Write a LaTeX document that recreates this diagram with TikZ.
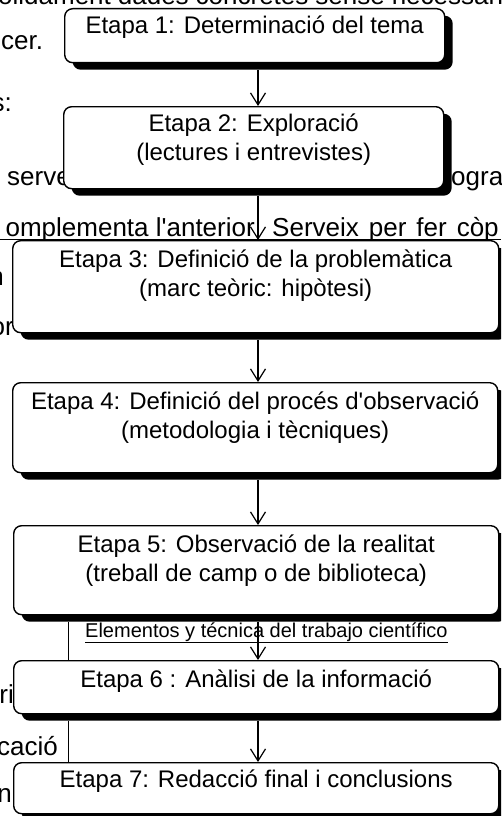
\documentclass[tikz,border=0pt]{standalone}
\usepackage{fontspec}
\setmainfont{Liberation Sans}
\usetikzlibrary{positioning,calc,shadows,arrows.meta}

\tikzset{
  stepbox/.style={draw, line width=1.4pt, rounded corners=8pt, fill=white, anchor=north west, inner sep=0pt,
    drop shadow={shadow xshift=8pt, shadow yshift=-7pt, fill=black, opacity=1}},
  steptext/.style={font=\fontsize{24}{29}\selectfont, align=center, anchor=base, inner sep=0pt},
  bgtext/.style={font=\fontsize{26}{30}\selectfont, inner sep=0pt},
  flow/.style={-{Straight Barb[length=12pt,width=15pt]}, line width=1.2pt}
}

\begin{document}
\begin{tikzpicture}[x=1pt, y=-1pt]
    \useasboundingbox (0,0) rectangle (501,816);
    \clip (0,0) rectangle (501,816);
    \coordinate (ax) at (258,0);
    \coordinate (lx) at (68,0);

    % page text behind the diagram
    \node [bgtext, anchor=base west] (bg1) at (-2,5) {\spaceskip=7pt olidament dades concretes sense necessari};
    \node [bgtext, anchor=base west] (bg2) at (1,50) {cer.};
    \node [bgtext, anchor=base east] (bg3) at (12,111) {s:};
    \node [bgtext, anchor=base west] (bg4) at (7,185) {serve};
    \node [bgtext, anchor=base west] (bg5) at (451,185) {ogra};
    \node [bgtext, anchor=base east] (bg6) at (255,236) {omplementa l\textquotesingle anterior};
    \node [bgtext, anchor=base west] (bg7) at (272,236) {\spaceskip=10pt Serveix per fer còp};
    \draw [line width=1pt] (0,239) -- (501,239);
    \node [bgtext, anchor=base east] (bg8) at (4,285) {n};
    \node [bgtext, anchor=base east] (bg9) at (14,335) {or};
    \node [bgtext, anchor=base east] (bg10) at (14,703) {ri};
    \node [bgtext, anchor=base east] (bg11) at (58,755) {cació};
    \node [bgtext, anchor=base east] (bg12) at (12,802) {n};

    % Etapes (base = last line)
    \node [stepbox, minimum width=380pt, minimum height=54pt] (e1) at (64,8) {};
    \node [steptext] (t1) at ($(e1.north)+(0,26)$) {Etapa 1: Determinació del tema};

    \node [stepbox, minimum width=380pt, minimum height=82pt] (e2) at (63,106) {};
    \node [steptext] (t2) at ($(e2.north)+(0,54)$) {Etapa 2: Exploració\\(lectures i entrevistes)};

    \node [stepbox, minimum width=486pt, minimum height=92pt] (e3) at (12,240) {};
    \node [steptext] (t3) at ($(e3.north)+(0,56)$) {Etapa 3: Definició de la problemàtica\\(marc teòric: hipòtesi)};

    \node [stepbox, minimum width=485pt, minimum height=90pt] (e4) at (12,382) {};
    \node [steptext] (t4) at ($(e4.north)+(0,56)$) {Etapa 4: Definició del procés d\textquotesingle observació\\(metodologia i tècniques)};

    \node [stepbox, minimum width=485pt, minimum height=89pt] (e5) at (13,525) {};
    \node [steptext] (t5) at ($(e5.north)+(0,56)$) {Etapa 5: Observació de la realitat\\(treball de camp o de biblioteca)};

    \node [font=\fontsize{20}{24}\selectfont, anchor=base west, inner sep=0pt] (note) at (85,637) {\underline{Elementos y técnica del trabajo científico}};

    \node [stepbox, minimum width=485pt, minimum height=53pt] (e6) at (13,660) {};
    \node [steptext] (t6) at ($(e6.north)+(0,27)$) {Etapa 6 : Anàlisi de la informació};

    \node [stepbox, minimum width=485pt, minimum height=51pt] (e7) at (13,762) {};
    \node [steptext] (t7) at ($(e7.north)+(0,25)$) {Etapa 7: Redacció final i conclusions};

    % arrows and side line
    \foreach \a/\b in {e1/e2, e2/e3, e3/e4, e4/e5, e5/e6, e6/e7}
        \draw [flow] ($(\a.south -| ax)+(0,7)$) -- (\b.north -| ax);
    \foreach \a/\b in {e5/e6, e6/e7}
        \draw [line width=1pt] ($(\a.south -| lx)+(0,7)$) -- (\b.north -| lx);
\end{tikzpicture}
\end{document}
